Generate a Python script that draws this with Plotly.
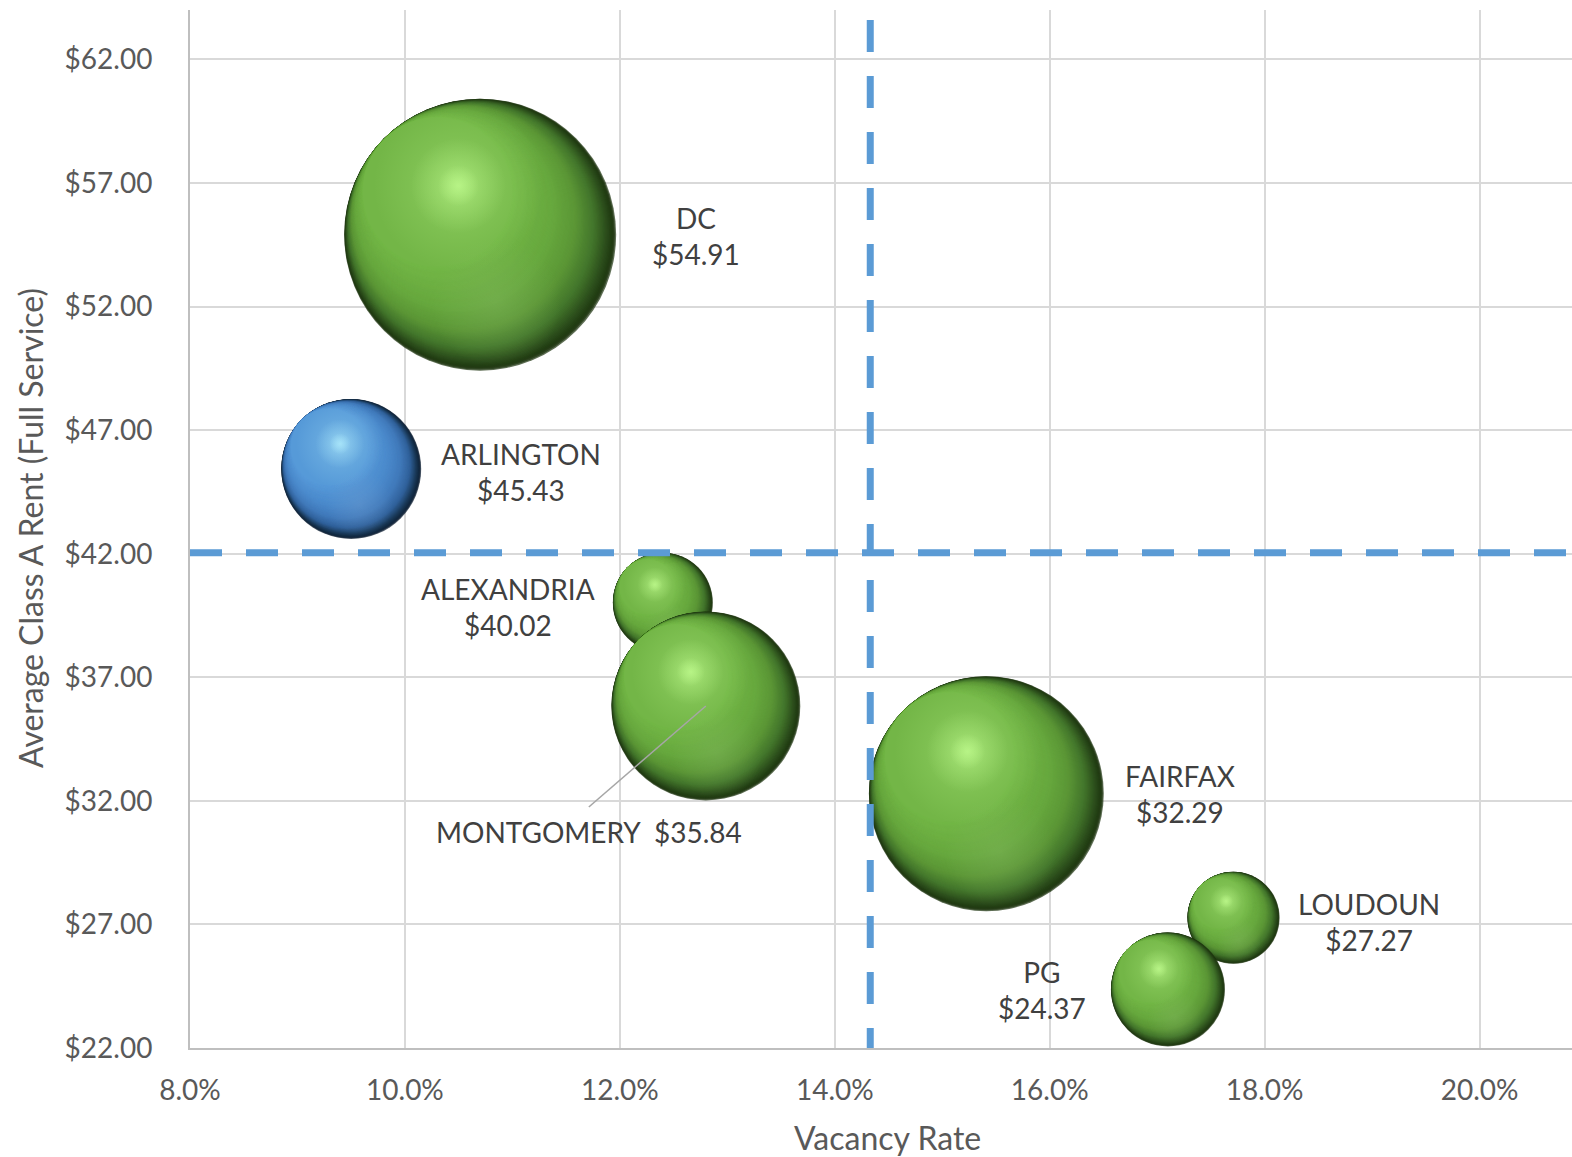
import numpy as np
import plotly.graph_objects as go

# ---------------- data ----------------
regions = ["DC", "ARLINGTON", "ALEXANDRIA", "MONTGOMERY", "FAIRFAX", "LOUDOUN", "PG"]
vacancy_rate = [10.70, 9.50, 12.40, 12.80, 15.41, 17.71, 17.10]   # %
class_a_rent = [54.91, 45.43, 40.02, 35.84, 32.29, 27.27, 24.37]  # $/sf
bubble_value = [74.0, 19.6, 10.0, 35.7, 55.2, 8.5, 13.0]          # relative bubble size
avg_vacancy = 14.33
avg_rent = 42.04
x_tick_vals = [8, 10, 12, 14, 16, 18, 20]
y_tick_vals = [22, 27, 32, 37, 42, 47, 52, 57, 62]
highlighted = "ARLINGTON"

# ---------------- layout constants ----------------
W, H = 1572, 1157
ML, MR, MT, MB = 190, 0, 10, 109
X_RANGE = [8, 20.86]
Y_RANGE = [22, 64]
plot_w = W - ML - MR
plot_h = H - MT - MB
px_x = plot_w / (X_RANGE[1] - X_RANGE[0])
px_y = plot_h / (Y_RANGE[1] - Y_RANGE[0])
D_MAX = 272
k = D_MAX / np.sqrt(max(bubble_value))

FONT = "Lato"
TICK_COLOR = "#595959"
LABEL_COLOR = "#404040"

PALETTE = {
    "green": dict(body=[(0.00, "#1a300c"), (0.08, "#2b4c1b"), (0.20, "#42742b"),
                        (0.38, "#5b9636"), (0.60, "#67a83e"), (1.00, "#73b747")],
                  hi="195,255,145", refl="135,185,100"),
    "blue": dict(body=[(0.00, "#0c1d31"), (0.08, "#193857"), (0.20, "#30619a"),
                       (0.38, "#417abb"), (0.60, "#4a89cb"), (1.00, "#579ad9")],
                 hi="180,240,255", refl="115,160,210"),
}


def hex2rgb(h):
    h = h.lstrip("#")
    return np.array([int(h[i:i + 2], 16) for i in (0, 2, 4)], dtype=float)


def ramp(stops, t):
    for (t0, c0), (t1, c1) in zip(stops[:-1], stops[1:]):
        if t <= t1:
            f = 0 if t1 == t0 else (t - t0) / (t1 - t0)
            c = hex2rgb(c0) * (1 - f) + hex2rgb(c1) * f
            return "rgb(%d,%d,%d)" % tuple(np.round(c))
    return "rgb(%d,%d,%d)" % tuple(hex2rgb(stops[-1][1]))


fig = go.Figure()

NB = 90
ts = np.linspace(0, 1, NB)
for name, xv, yv, val in zip(regions, vacancy_rate, class_a_rent, bubble_value):
    D = k * np.sqrt(val)
    r = D / 2
    pal = PALETTE["blue" if name == highlighted else "green"]
    xs, ys, size, col, gcol, gtype = [], [], [], [], [], []

    def add(dx, dy, diam, c, gc="rgba(0,0,0,0)", gt="none"):
        xs.append(xv + dx / px_x)
        ys.append(yv - dy / px_y)
        size.append(diam)
        col.append(c)
        gcol.append(gc)
        gtype.append(gt)

    # body: nested discs, internally tangent on the lit (upper-left) side
    ux, uy = -0.7071, -0.7071
    for t in ts:
        rad = r * (1 - 0.45 * t)
        drift = 0.985 * (r - rad)
        add(ux * drift, uy * drift, 2 * rad, ramp(pal["body"], t))
    # soft reflection in the lower half
    add(0.12 * r, 0.50 * r, 0.95 * r, "rgba(%s,0)" % pal["refl"],
        "rgba(%s,0.5)" % pal["refl"], "radial")
    # specular highlight
    hx, hy = -0.16 * r, -0.36 * r
    add(hx, hy, 1.25 * r, "rgba(%s,0)" % pal["hi"], "rgba(%s,0.45)" % pal["hi"], "radial")
    add(hx, hy, 0.70 * r, "rgba(%s,0)" % pal["hi"], "rgba(%s,0.7)" % pal["hi"], "radial")
    add(hx, hy, 0.30 * r, "rgba(%s,0)" % pal["hi"], "rgba(%s,0.8)" % pal["hi"], "radial")

    fig.add_trace(go.Scatter(
        x=xs, y=ys, mode="markers",
        marker=dict(size=size, color=col, line=dict(width=0),
                    gradient=dict(type=gtype, color=gcol)),
        hoverinfo="skip", showlegend=False, cliponaxis=False,
    ))

# dashed average lines
fig.add_shape(type="line", xref="x", yref="y", x0=avg_vacancy, x1=avg_vacancy,
              y0=Y_RANGE[1] - 10 / px_y, y1=Y_RANGE[0],
              line=dict(color="#5b9bd5", width=7, dash="32px,24px"), layer="above")
fig.add_shape(type="line", xref="x", yref="y", x0=X_RANGE[0], x1=X_RANGE[1],
              y0=avg_rent, y1=avg_rent,
              line=dict(color="#5b9bd5", width=7, dash="32px,24px"), layer="above")

# labels
label_shift = {"DC": (216, -1), "ARLINGTON": (170, -3), "ALEXANDRIA": (-155, -4),
               "FAIRFAX": (194, 0), "LOUDOUN": (136, -4), "PG": (-126, -1),
               "MONTGOMERY": (-117, -126)}
for name, xv, yv in zip(regions, vacancy_rate, class_a_rent):
    dx, dy = label_shift[name]
    if name == "MONTGOMERY":
        txt = f"{name}\u00a0 ${yv:.2f}"
        # leader line from the bubble centre to the label
        fig.add_shape(type="line", xref="x", yref="y",
                      xsizemode="pixel", ysizemode="pixel",
                      xanchor=xv, yanchor=yv, x0=0, y0=0, x1=dx, y1=dy + 25,
                      line=dict(color="#a6a6a6", width=1.5), layer="above")
    else:
        txt = f"{name}<br>${yv:.2f}"
    fig.add_annotation(x=xv, y=yv, xref="x", yref="y", text=txt,
                       showarrow=False, xshift=dx, yshift=dy, align="center",
                       font=dict(family=FONT, size=28, color=LABEL_COLOR))

# axis titles
fig.add_annotation(text="Vacancy Rate", xref="paper", yref="paper",
                   x=(887 - ML) / plot_w, y=-(1137 - (H - MB)) / plot_h,
                   showarrow=False, xanchor="center", yanchor="middle",
                   font=dict(family=FONT, size=32, color=TICK_COLOR))
fig.add_annotation(text="Average Class A Rent (Full Service)", xref="paper", yref="paper",
                   x=(30 - ML) / plot_w, y=((H - MB) - 528) / plot_h, textangle=-90,
                   showarrow=False, xanchor="center", yanchor="middle",
                   font=dict(family=FONT, size=32, color=TICK_COLOR))

fig.update_layout(
    width=W, height=H, margin=dict(l=ML, r=MR, t=MT, b=MB),
    paper_bgcolor="white", plot_bgcolor="white",
    font=dict(family=FONT, color=TICK_COLOR),
    xaxis=dict(range=X_RANGE, tickvals=x_tick_vals,
               ticktext=[f"{v:.1f}%" for v in x_tick_vals],
               showgrid=True, gridcolor="#d9d9d9", gridwidth=1.5,
               showline=True, linecolor="#bfbfbf", linewidth=2, zeroline=False,
               ticks="", ticklabelstandoff=16,
               tickfont=dict(family=FONT, size=28, color=TICK_COLOR)),
    yaxis=dict(range=Y_RANGE, tickvals=y_tick_vals,
               ticktext=[f"${v:.2f}" for v in y_tick_vals],
               showgrid=True, gridcolor="#d9d9d9", gridwidth=1.5,
               showline=True, linecolor="#bfbfbf", linewidth=2, zeroline=False,
               ticks="", ticklabelstandoff=30,
               tickfont=dict(family=FONT, size=28, color=TICK_COLOR)),
)

fig.write_html("out.html", config={"displayModeBar": False},
               post_script="document.body.style.margin='0';document.body.style.overflow='hidden';")
